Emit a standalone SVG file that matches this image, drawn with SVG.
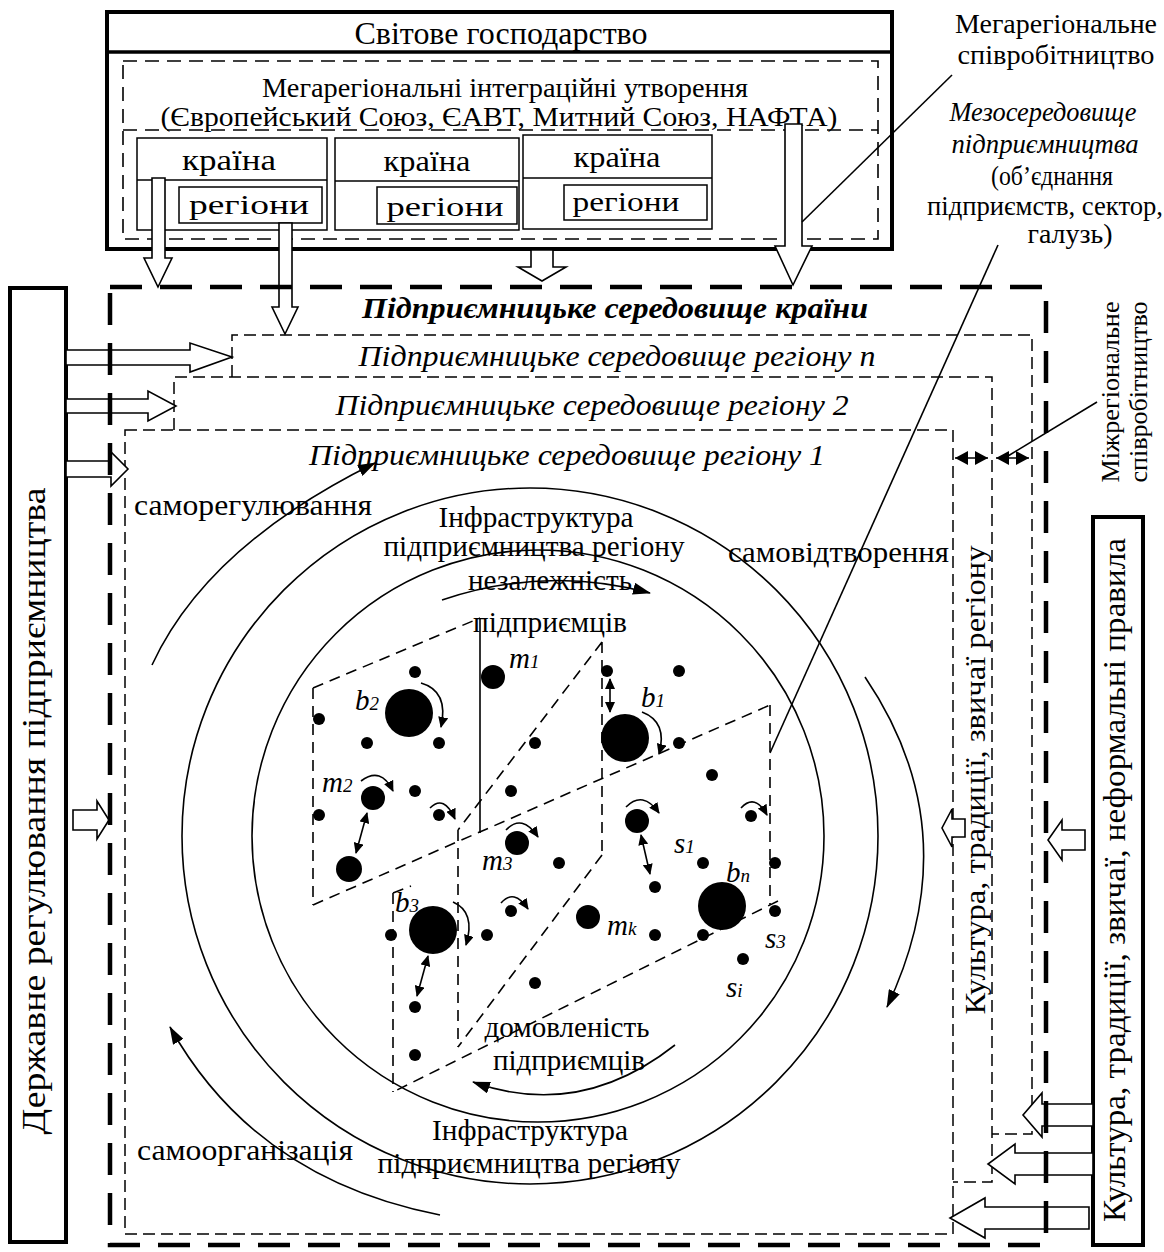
<svg xmlns="http://www.w3.org/2000/svg" width="1164" height="1252" viewBox="0 0 1164 1252">
<defs>
<marker id="ab" markerUnits="userSpaceOnUse" markerWidth="18" markerHeight="12" viewBox="0 0 18 12" refX="17" refY="6" orient="auto"><path d="M0,0 L18,6 L0,12 z" fill="#000"/></marker>
<marker id="as" markerUnits="userSpaceOnUse" markerWidth="11" markerHeight="10" viewBox="0 0 11 10" refX="10" refY="5" orient="auto-start-reverse"><path d="M0,0 L11,5 L0,10 z" fill="#000"/></marker>
<marker id="am" markerUnits="userSpaceOnUse" markerWidth="13" markerHeight="14" viewBox="0 0 13 14" refX="13" refY="7" orient="auto-start-reverse"><path d="M0,0 L13,7 L0,14 z" fill="#000"/></marker>
</defs>
<style>
text{font-family:"Liberation Serif","Times New Roman",serif;fill:#000}
.c{text-anchor:middle}
.it{font-style:italic}
.thick{fill:none;stroke:#000;stroke-width:4}
.box{fill:none;stroke:#000;stroke-width:1.5}
.md{fill:none;stroke:#000;stroke-width:1.6;stroke-dasharray:14 8}
.rd{fill:none;stroke:#000;stroke-width:1.5;stroke-dasharray:12 6}
.cd{fill:none;stroke:#000;stroke-width:4.5;stroke-dasharray:32 18}
.pl{fill:none;stroke:#000;stroke-width:1.6;stroke-dasharray:11 7}
.ln{fill:none;stroke:#000;stroke-width:1.6}
.hol{fill:#fff;stroke:#000;stroke-width:1.6}
.d{fill:#000}
</style>
<rect width="1164" height="1252" fill="#fff"/>

<g id="world">
<rect x="107" y="12" width="785" height="237" class="thick"/>
<line x1="107" y1="52" x2="892" y2="52" stroke="#000" stroke-width="3.5"/>
<text class="c" x="501" y="44" font-size="31" textLength="293" lengthAdjust="spacingAndGlyphs">Світове господарство</text>
</g>

<g id="mega">
<rect x="123" y="61" width="755" height="178" class="md"/>
<line x1="123" y1="130" x2="878" y2="130" class="md"/>
<text class="c" x="505" y="97" font-size="28" textLength="486" lengthAdjust="spacingAndGlyphs">Мегарегіональні інтеграційні утворення</text>
<text class="c" x="499" y="126" font-size="28" textLength="677" lengthAdjust="spacingAndGlyphs">(Європейський Союз, ЄАВТ, Митний Союз, НАФТА)</text>
</g>

<g id="country1">
<rect x="137" y="138" width="190" height="92" class="box"/>
<line x1="137" y1="180" x2="327" y2="180" class="box"/>
<rect x="179" y="187" width="143" height="36" class="box"/>
<text class="c" x="229" y="170" font-size="29" textLength="94" lengthAdjust="spacingAndGlyphs">країна</text>
<text class="c" x="249" y="214" font-size="28" textLength="120" lengthAdjust="spacingAndGlyphs">регіони</text>
</g>
<g id="country2">
<rect x="335" y="138" width="184" height="92" class="box"/>
<line x1="335" y1="181" x2="519" y2="181" class="box"/>
<rect x="377" y="187" width="140" height="37" class="box"/>
<text class="c" x="427" y="171" font-size="29" textLength="87" lengthAdjust="spacingAndGlyphs">країна</text>
<text class="c" x="445" y="216" font-size="28" textLength="117" lengthAdjust="spacingAndGlyphs">регіони</text>
</g>
<g id="country3">
<rect x="523" y="135" width="189" height="94" class="box"/>
<line x1="523" y1="178" x2="712" y2="178" class="box"/>
<rect x="564" y="185" width="143" height="35" class="box"/>
<text class="c" x="617" y="167" font-size="29" textLength="87" lengthAdjust="spacingAndGlyphs">країна</text>
<text class="c" x="626" y="211" font-size="28" textLength="107" lengthAdjust="spacingAndGlyphs">регіони</text>
</g>

<g id="labels-top-right">
<text class="c" x="1056" y="33" font-size="27" textLength="202" lengthAdjust="spacingAndGlyphs">Мегарегіональне</text>
<text class="c" x="1056" y="64" font-size="27" textLength="197" lengthAdjust="spacingAndGlyphs">співробітництво</text>
<text class="c it" x="1043" y="121" font-size="27" textLength="187" lengthAdjust="spacingAndGlyphs">Мезосередовище</text>
<text class="c it" x="1045" y="153" font-size="27" textLength="187" lengthAdjust="spacingAndGlyphs">підприємництва</text>
<text class="c" x="1052" y="185" font-size="27" textLength="122" lengthAdjust="spacingAndGlyphs">(об’єднання</text>
<text class="c" x="1045" y="215" font-size="27" textLength="236" lengthAdjust="spacingAndGlyphs">підприємств, сектор,</text>
<text class="c" x="1070" y="243" font-size="27" textLength="85" lengthAdjust="spacingAndGlyphs">галузь)</text>
</g>

<g id="state-regulation">
<rect x="10" y="288" width="56" height="954" class="thick"/>
<text class="c" transform="translate(45,811) rotate(-90)" font-size="34" textLength="647" lengthAdjust="spacingAndGlyphs">Державне регулювання підприємництва</text>
</g>

<g id="culture">
<rect x="1093" y="517" width="50" height="728" class="thick"/>
<text class="c" transform="translate(1125,880) rotate(-90)" font-size="32" textLength="684" lengthAdjust="spacingAndGlyphs">Культура, традиції, звичаї, неформальні правила</text>
</g>

<g id="interregional-label">
<text class="c" transform="translate(1119,392) rotate(-90)" font-size="25" textLength="181" lengthAdjust="spacingAndGlyphs">Міжрегіональне</text>
<text class="c" transform="translate(1147,392) rotate(-90)" font-size="25" textLength="181" lengthAdjust="spacingAndGlyphs">співробітництво</text>
</g>

<g id="region-n">
<path d="M232,377 V335 H1032 V1134 H992" class="rd"/>
<text class="c it" x="617" y="366" font-size="30" textLength="517" lengthAdjust="spacingAndGlyphs">Підприємницьке середовище регіону n</text>
</g>
<g id="region-2">
<path d="M174,430 V377 H992 V1182 H953" class="rd"/>
<text class="c it" x="592" y="415" font-size="30" textLength="513" lengthAdjust="spacingAndGlyphs">Підприємницьке середовище регіону 2</text>
</g>
<g id="region-1">
<rect x="125" y="430" width="828" height="804" class="rd"/>
<text class="c it" x="567" y="465" font-size="30" textLength="516" lengthAdjust="spacingAndGlyphs">Підприємницьке середовище регіону 1</text>
<text class="c" transform="translate(985,780) rotate(-90)" font-size="30" textLength="469" lengthAdjust="spacingAndGlyphs">Культура, традиції, звичаї регіону</text>
</g>

<g id="infrastructure">
<circle cx="530" cy="836" r="348" class="ln"/>
<circle cx="538" cy="836" r="286" class="ln"/>
<text class="c" x="536" y="527" font-size="29" textLength="195" lengthAdjust="spacingAndGlyphs">Інфраструктура</text>
<text class="c" x="534" y="556" font-size="29" textLength="301" lengthAdjust="spacingAndGlyphs">підприємництва регіону</text>
<text class="c" x="530" y="1140" font-size="29" textLength="196" lengthAdjust="spacingAndGlyphs">Інфраструктура</text>
<text class="c" x="529" y="1173" font-size="29" textLength="303" lengthAdjust="spacingAndGlyphs">підприємництва регіону</text>
<text x="134" y="515" font-size="29" textLength="238" lengthAdjust="spacingAndGlyphs">саморегулювання</text>
<text x="728" y="562" font-size="29" textLength="221" lengthAdjust="spacingAndGlyphs">самовідтворення</text>
<text x="137" y="1160" font-size="29" textLength="216" lengthAdjust="spacingAndGlyphs">самоорганізація</text>
<text class="c" x="550" y="590" font-size="29" textLength="164" lengthAdjust="spacingAndGlyphs">незалежність</text>
<text class="c" x="550" y="632" font-size="29" textLength="154" lengthAdjust="spacingAndGlyphs">підприємців</text>
<text class="c" x="567" y="1037" font-size="29" textLength="165" lengthAdjust="spacingAndGlyphs">домовленість</text>
<text class="c" x="569" y="1070" font-size="29" textLength="152" lengthAdjust="spacingAndGlyphs">підприємців</text>
</g>

<g id="planes">
<path d="M313,688 L480,618 M313,688 V905 M313,905 L770,705" class="pl"/>
<path d="M480,618 V833" class="ln"/>
<path d="M602,642 L458,830 M602,642 V855 M602,855 L458,1047 M458,830 V1047" class="pl"/>
<path d="M770,705 V905 M778,901 L393,1092 M393,893 V1092 M393,893 L411,886" class="pl"/>
</g>

<g id="enterprises">
<g class="d">
<circle cx="415" cy="672" r="6"/><circle cx="319" cy="719" r="6"/><circle cx="367" cy="743" r="6"/><circle cx="439" cy="743" r="6"/>
<circle cx="415" cy="791" r="6"/><circle cx="319" cy="815" r="6"/><circle cx="439" cy="815" r="6"/><circle cx="535" cy="743" r="6"/>
<circle cx="511" cy="791" r="6"/><circle cx="607" cy="671" r="6"/><circle cx="679" cy="671" r="6"/><circle cx="679" cy="743" r="6"/>
<circle cx="712" cy="775" r="6"/><circle cx="751" cy="816" r="6"/><circle cx="559" cy="863" r="6"/><circle cx="703" cy="863" r="6"/>
<circle cx="655" cy="887" r="6"/><circle cx="775" cy="863" r="6"/><circle cx="775" cy="911" r="6"/><circle cx="511" cy="911" r="6"/>
<circle cx="391" cy="935" r="6"/><circle cx="487" cy="935" r="6"/><circle cx="655" cy="935" r="6"/><circle cx="703" cy="935" r="6"/>
<circle cx="743" cy="959" r="6"/><circle cx="535" cy="983" r="6"/><circle cx="415" cy="1007" r="6"/><circle cx="415" cy="1055" r="6"/>
<circle cx="493" cy="677" r="12"/><circle cx="373" cy="798" r="12"/><circle cx="349" cy="869" r="13"/><circle cx="517" cy="843" r="12"/>
<circle cx="637" cy="821" r="12"/><circle cx="588" cy="917" r="12"/>
<circle cx="409" cy="713" r="24"/><circle cx="625" cy="738" r="24"/><circle cx="722" cy="906" r="24"/><circle cx="433" cy="930" r="24"/>
</g>
<g class="it" font-size="29">
<text x="509" y="668">m<tspan font-size="19">1</tspan></text>
<text x="355" y="710">b<tspan font-size="19">2</tspan></text>
<text x="641" y="707">b<tspan font-size="19">1</tspan></text>
<text x="322" y="792">m<tspan font-size="19">2</tspan></text>
<text x="482" y="870">m<tspan font-size="19">3</tspan></text>
<text x="674" y="853">s<tspan font-size="19">1</tspan></text>
<text x="726" y="882">b<tspan font-size="19">n</tspan></text>
<text x="395" y="912">b<tspan font-size="19">3</tspan></text>
<text x="607" y="935">m<tspan font-size="19">k</tspan></text>
<text x="765" y="948">s<tspan font-size="19">3</tspan></text>
<text x="726" y="997">s<tspan font-size="19">i</tspan></text>
</g>
</g>

<g id="connectors">
<polygon class="hol" points="152,178 165,178 165,258 172,258 158,287 144,258 152,258"/>
<polygon class="hol" points="279,223 292,223 292,307 298,307 285,334 272,307 279,307"/>
<polygon class="hol" points="531,250 553,250 553,267 566,267 542,281 518,267 531,267"/>
<polygon class="hol" points="785,124 802,124 802,246 812,246 793,285 775,246 785,246"/>
<polygon class="hol" points="66,350 190,350 190,343 232,357 190,372 190,365 66,365"/>
<polygon class="hol" points="66,399 148,399 148,391 176,406 148,421 148,413 66,413"/>
<polygon class="hol" points="66,461 111,461 111,452 128,469 111,486 111,477 66,477"/>
<polygon class="hol" points="73,810 97,810 97,801 109,820 97,839 97,830 73,830"/>
<polygon class="hol" points="1085,830 1062,830 1062,820 1048,840 1062,860 1062,850 1085,850"/>
<polygon class="hol" points="1093,1104 1042,1104 1042,1093 1023,1115 1042,1137 1042,1126 1093,1126"/>
<polygon class="hol" points="1093,1153 1015,1153 1015,1144 988,1164 1015,1184 1015,1175 1093,1175"/>
<polygon class="hol" points="1089,1207 985,1207 985,1198 950,1218 985,1238 985,1229 1089,1229"/>
<polygon class="hol" points="965,819 952,819 952,809 942,828 952,847 952,837 965,837"/>
<line x1="952" y1="75" x2="802" y2="222" class="ln"/>
<line x1="998" y1="245" x2="770" y2="753" class="ln"/>
<line x1="1008" y1="456" x2="1097" y2="402" class="ln"/>
<path d="M955,458 H988" class="ln" marker-start="url(#am)" marker-end="url(#am)"/>
<path d="M996,458 H1029" class="ln" marker-start="url(#am)" marker-end="url(#am)"/>
<path d="M152,665 Q207,546 375,463" class="ln" marker-end="url(#ab)"/>
<path d="M440,1215 Q255,1179 170,1027" class="ln" marker-end="url(#ab)"/>
<path d="M865,677 Q970,832 887,1007" class="ln" marker-end="url(#ab)"/>
<path d="M442,600 Q545,565 650,593" class="ln" marker-end="url(#ab)"/>
<path d="M675,1045 Q580,1120 473,1082" class="ln" marker-end="url(#ab)"/>
<path d="M367,813 L356,853" class="ln" marker-start="url(#as)" marker-end="url(#as)"/>
<path d="M610,679 L610,712" class="ln" marker-start="url(#as)" marker-end="url(#as)"/>
<path d="M641,835 L650,874" class="ln" marker-start="url(#as)" marker-end="url(#as)"/>
<path d="M428,956 L417,996" class="ln" marker-start="url(#as)" marker-end="url(#as)"/>
<path d="M421,683 Q449,691 441,727" class="ln" marker-end="url(#as)"/>
<path d="M642,712 Q668,722 659,754" class="ln" marker-end="url(#as)"/>
<path d="M453,902 Q476,912 466,945" class="ln" marker-end="url(#as)"/>
<path d="M361,781 Q381,766 393,791" class="ln" marker-end="url(#as)"/>
<path d="M430,808 Q444,794 455,819" class="ln" marker-end="url(#as)"/>
<path d="M506,830 Q522,813 538,837" class="ln" marker-end="url(#as)"/>
<path d="M626,807 Q643,790 659,813" class="ln" marker-end="url(#as)"/>
<path d="M741,808 Q755,793 767,815" class="ln" marker-end="url(#as)"/>
<path d="M501,903 Q514,888 528,909" class="ln" marker-end="url(#as)"/>
</g>

<g id="country-environment">
<rect x="110" y="287" width="936" height="958" class="cd"/>
<text class="c it" x="615" y="318" font-size="30" font-weight="bold" textLength="506" lengthAdjust="spacingAndGlyphs">Підприємницьке середовище країни</text>
</g>
</svg>
